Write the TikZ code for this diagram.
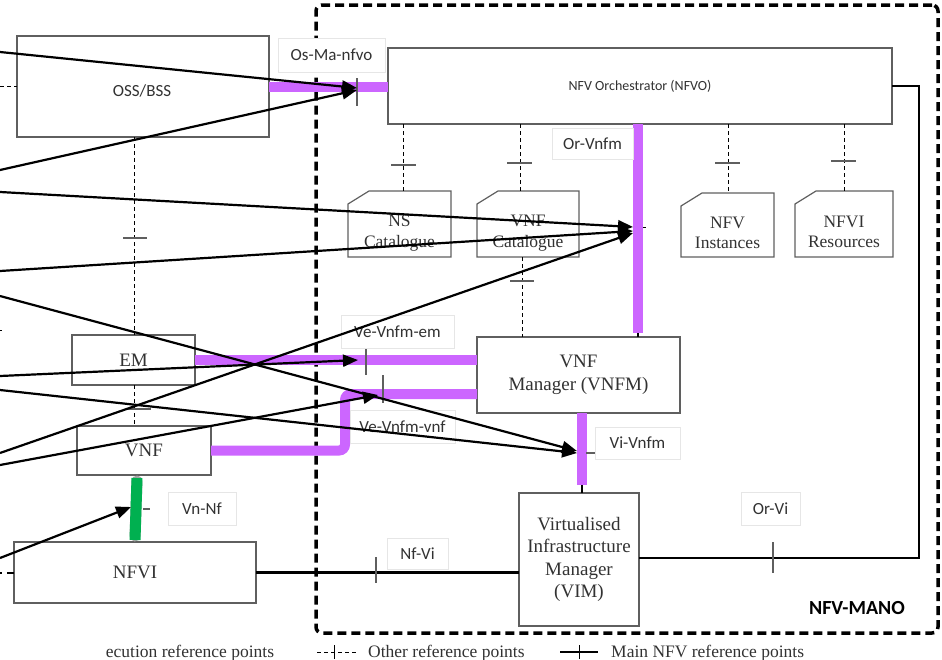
\documentclass[tikz,border=0pt]{standalone}
\usepackage{fontspec}
\setmainfont{Liberation Serif}
\newfontfamily\labfont{Carlito}
\usetikzlibrary{arrows.meta}
\definecolor{mpurple}{RGB}{204,102,255}
\definecolor{mgreen}{RGB}{0,176,80}
\definecolor{boxgray}{RGB}{95,95,95}
\definecolor{txtgray}{RGB}{50,50,50}
\definecolor{lblborder}{RGB}{230,230,230}
\begin{document}
\begin{tikzpicture}[x=1pt,y=-1pt,
  box/.style={draw=boxgray,line width=1.2pt,fill=white,inner sep=0pt,outer sep=0pt,text=txtgray,align=center},
  catnode/.style={inner sep=0pt,outer sep=0pt},
  sertext/.style={font=\fontsize{19}{22.5}\selectfont},
  cattext/.style={font=\fontsize{17.5}{20.5}\selectfont,text=txtgray,align=center,inner sep=0pt},
  sanstext/.style={font=\labfont\fontsize{17}{20}\selectfont},
  lbl/.style={draw=lblborder,line width=0.6pt,fill=white,inner sep=0pt,outer sep=0pt,text=txtgray,font=\labfont\fontsize{17}{20}\selectfont},
  otherref/.style={line width=0.8pt,dash pattern=on 4pt off 3pt},
  mainref/.style={line width=2.2pt},
  tickmark/.style={line width=1.2pt,draw=boxgray},
  purp/.style={line width=10pt,draw=mpurple},
  arr/.style={line width=2.2pt,-{Triangle[length=15pt,width=12pt]}},
  legtext/.style={font=\fontsize{17.5}{20}\selectfont,text=txtgray,inner sep=0pt},
]
\path[use as bounding box] (0,0) rectangle (942,659);
\clip (0,0) rectangle (942,659);

% NFV-MANO frame
\node[draw,line width=3.5pt,dash pattern=on 9pt off 5pt,rounded corners=6pt,minimum width=622pt,minimum height=628pt,inner sep=0pt] (mano) at (627,319) {};
\node[font=\labfont\bfseries\fontsize{20}{24}\selectfont] (manoT) at (857,608) {NFV-MANO};

% boxes
\node[box,minimum width=252pt,minimum height=101pt] (oss) at (143,86.5) {};
\node[sanstext,text=txtgray] (ossT) at (142,91) {OSS/BSS};
\node[box,font=\labfont\fontsize{14}{16}\selectfont,minimum width=504pt,minimum height=76pt] (nfvo) at (640,86) {NFV Orchestrator (NFVO)};
\node[catnode,minimum width=103pt,minimum height=66pt] (nscat) at (399.5,224) {};
\node[catnode,minimum width=102pt,minimum height=66pt] (vnfcat) at (528,224) {};
\node[catnode,minimum width=93pt,minimum height=64pt] (nfvinst) at (727.5,225) {};
\node[catnode,minimum width=98pt,minimum height=66pt] (nfvires) at (844,224) {};
\foreach \n in {nscat,vnfcat,nfvinst,nfvires}
  \draw[draw=boxgray,line width=1.2pt] ([yshift=-13pt]\n.north west) -- ([xshift=21pt]\n.north west) -- (\n.north east) -- (\n.south east) -- (\n.south west) -- cycle;
\node[cattext] (nscatT) at ([yshift=-9pt]nscat.center) {NS\\Catalogue};
\node[cattext] (vnfcatT) at ([yshift=-9pt]vnfcat.center) {VNF\\Catalogue};
\node[cattext] (nfvinstT) at ([yshift=-8pt]nfvinst.center) {NFV\\Instances};
\node[cattext] (nfviresT) at ([yshift=-8pt]nfvires.center) {NFVI\\Resources};

\node[box,sertext,minimum width=123pt,minimum height=50pt] (em) at (133.5,360) {EM};
\node[box,sertext,minimum width=134pt,minimum height=49pt] (vnf) at (144,450.5) {VNF};
\node[box,sertext,minimum width=203pt,minimum height=76pt] (vnfm) at (578.5,375) {VNF\\Manager (VNFM)};
\node[box,sertext,minimum width=120pt,minimum height=133pt] (vim) at (579,559.5) {Virtualised\\Infrastructure\\Manager\\(VIM)};
\node[box,sertext,minimum width=242pt,minimum height=61pt] (nfvi) at (135,572.5) {NFVI};

% other (dashed) reference points
\coordinate (nsTop) at (403,191);
\coordinate (vcTop) at (520,191);
\coordinate (niTop) at (728,193);
\coordinate (nrTop) at (844,191);
\foreach \c in {nsTop,vcTop,niTop,nrTop}
  \draw[otherref] (\c |- nfvo.south) -- (\c);
\draw[tickmark] (391,165) -- (416,165);
\draw[tickmark] (507,163) -- (532,163);
\draw[tickmark] (715,163) -- (740,163);
\draw[tickmark] (831,161) -- (856,161);
\coordinate (vcv) at (522,337);
\draw[otherref] (vcv |- vnfcat.south) -- (vcv);
\draw[tickmark] (510,281) -- (534,281);
\coordinate (ossem) at (134,335);
\draw[otherref] (ossem |- oss.south) -- (ossem);
\draw[tickmark] (123,238) -- (147,238);
\draw[otherref] (ossem |- em.south) -- (ossem |- vnf.north);
\draw[tickmark] (127,409) -- (151,409);
\coordinate (lstub) at (0,86);
\draw[otherref] (lstub) -- (lstub -| oss.west);
\draw[line width=1pt] (0,330) -- (2,330);
\coordinate (nstub) at (7,573);
\draw[line width=1.3pt] (0,573) -- (2,573);
\draw[line width=1.3pt] (nstub) -- (nstub -| nfvi.west);

% main reference points
\draw[purp] (oss.east) -- (oss.east -| nfvo.west);
\draw[tickmark] (357,78) -- (357,106);
\coordinate (orv) at (638,337);
\draw[purp] (orv |- nfvo.south) -- (638,333);
\draw[line width=2pt] (638,333) -- (orv);
\draw[line width=1pt] (643,227) -- (646,227);
\draw[purp] (em.east) -- (em.east -| vnfm.west);
\draw[tickmark] (366,342) -- (366,375);
\coordinate (bend) at (345,394);
\draw[purp,rounded corners=6pt] (vnf.east) -- (vnf.east -| bend) -- (bend) -- (bend -| vnfm.west);
\draw[tickmark] (383,375) -- (383,403);
\coordinate (viv) at (581.5,413);
\draw[purp] (viv) -- (581.5,485);
\draw[line width=2pt] (581.5,485) -- (viv |- vim.north);
\draw[tickmark] (586,453) -- (595,453);
\draw[line width=11pt,draw=gray!70,line cap=round] (137,481) -- (135,536);
\draw[line width=11pt,draw=mgreen] (137,478) -- (135,540);
\draw[tickmark] (143,509) -- (150,509);
\draw[mainref] (nfvi.east) -- (nfvi.east -| vim.west);
\draw[tickmark] (376,557) -- (376,583);
\coordinate (orvi) at (919,558);
\draw[mainref] (nfvo.east) -- (nfvo.east -| orvi) -- (orvi) -- (orvi -| vim.east);
\draw[tickmark] (773,542) -- (773,573);

% labels
\node[lbl,minimum width=107pt,minimum height=34pt] (osmaL) at (331.5,55) {Os-Ma-nfvo};
\node[lbl,minimum width=81pt,minimum height=31pt] (orvnfmL) at (592.5,143.5) {Or-Vnfm};
\node[lbl,minimum width=113pt,minimum height=33pt] (veemL) at (397.5,331.5) {Ve-Vnfm-em};
\node[lbl,minimum width=105pt,minimum height=33pt] (vevnfL) at (402.5,426.5) {Ve-Vnfm-vnf};
\node[lbl,minimum width=85pt,minimum height=32pt] (vivnfmL) at (637.5,443) {Vi-Vnfm};
\node[lbl,minimum width=68pt,minimum height=33pt] (vnnfL) at (202,508.5) {Vn-Nf};
\node[lbl,minimum width=61pt,minimum height=31pt] (nfviL) at (417.5,553.5) {Nf-Vi};
\node[lbl,minimum width=59pt,minimum height=33pt] (orviL) at (770.5,508.5) {Or-Vi};

% legend
\node[legtext,anchor=base] (leg1) at (190,657) {ecution reference points};
\coordinate (lo1) at (317,652); \coordinate (lo2) at (358,652);
\draw[otherref] (lo1) -- (lo2);
\draw[line width=0.8pt] (334,645) -- (334,659);
\node[legtext,anchor=base west] (leg2) at (368,657) {Other reference points};
\coordinate (lm1) at (560,652); \coordinate (lm2) at (598,652);
\draw[mainref] (lm1) -- (lm2);
\draw[line width=1pt] (579,645) -- (579,659);
\node[legtext,anchor=base west] (leg3) at (611,657) {Main NFV reference points};

% arrows
\coordinate (sA) at (0,52);   \coordinate (tA) at (357,88);
\coordinate (sB) at (0,170);  \coordinate (tB) at (357,90);
\coordinate (sC) at (0,192);  \coordinate (tC) at (633,227);
\coordinate (sD) at (0,271);  \coordinate (tD) at (633,231);
\coordinate (sE) at (0,296);  \coordinate (tE) at (577,451);
\coordinate (sF) at (0,376);  \coordinate (tF) at (358,360);
\coordinate (sG) at (0,390);  \coordinate (tG) at (577,453);
\coordinate (sH) at (0,453);  \coordinate (tH) at (633,233);
\coordinate (sI) at (0,465);  \coordinate (tI) at (378,395);
\coordinate (sJ) at (0,558);  \coordinate (tJ) at (131,507);
\foreach \k in {A,B,C,D,E,F,G,H,I,J}
  \draw[arr] (s\k) -- (t\k);
\end{tikzpicture}
\end{document}
